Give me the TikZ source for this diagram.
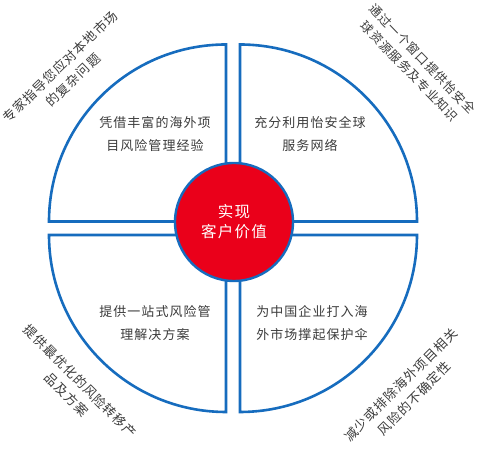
\documentclass[tikz,border=0pt]{standalone}
\usepackage{fontspec}
\newfontfamily\cjk[LetterSpace=8]{Noto Sans CJK SC}
\definecolor{ringblue}{RGB}{22,108,190}
\definecolor{corered}{RGB}{234,0,26}
\definecolor{txtgray}{RGB}{60,60,60}
\tikzset{
  sector/.style={draw=ringblue,line width=2.6pt,fill=white,line join=miter},
  inner/.style={text=txtgray,align=center,font=\cjk\fontsize{13}{23}\selectfont,inner sep=0pt},
  outer/.style={text=txtgray,align=center,font=\cjk\fontsize{13}{19}\selectfont,inner sep=0pt},
}
\begin{document}
\begin{tikzpicture}[x=1pt,y=1pt]
\useasboundingbox (0,0) rectangle (480,449);
% four quarter sectors
\draw[sector] (226,227.5) -- ++(-177,0) arc[start angle=180,end angle=90,radius=177] -- cycle;
\draw[sector] (240,227.5) -- ++(0,177) arc[start angle=90,end angle=0,radius=177] -- cycle;
\draw[sector] (226,214) -- ++(0,-177) arc[start angle=270,end angle=180,radius=177] -- cycle;
\draw[sector] (240,214) -- ++(177,0) arc[start angle=0,end angle=-90,radius=177] -- cycle;
% core
\node[circle,draw=ringblue,line width=2.4pt,fill=corered,minimum size=118pt,inner sep=0pt,
      text=white,align=center,font=\cjk\fontsize{15.5}{20}\selectfont] (core) at (234,227) {实现\\客户价值};
% quadrant texts
\node[inner] (q1) at (155,314.5) {凭借丰富的海外项\\目风险管理经验};
\node[inner] (q2) at (310,314.5) {充分利用怡安全球\\服务网络};
\node[inner] (q3) at (155,125.5) {提供一站式风险管\\理解决方案};
\node[inner] (q4) at (312,125.5) {为中国企业打入海\\外市场撑起保护伞};
% outer rotated texts
\node[outer,rotate=44] (o1) at (66.5,375.5) {专家指导您应对本地市场\\的复杂问题};
\node[outer,rotate=-46,font=\cjk\fontsize{12.4}{18}\selectfont] (o2) at (416,384) {通过一个窗口提供怡安全\\球资源服务及专业知识};
\node[outer,rotate=-45] (o3) at (73.5,61) {提供最优化的风险转移产\\品及方案};
\node[outer,rotate=45] (o4) at (407.5,57.5) {减少或排除海外项目相关\\风险的不确定性};
\end{tikzpicture}
\end{document}
